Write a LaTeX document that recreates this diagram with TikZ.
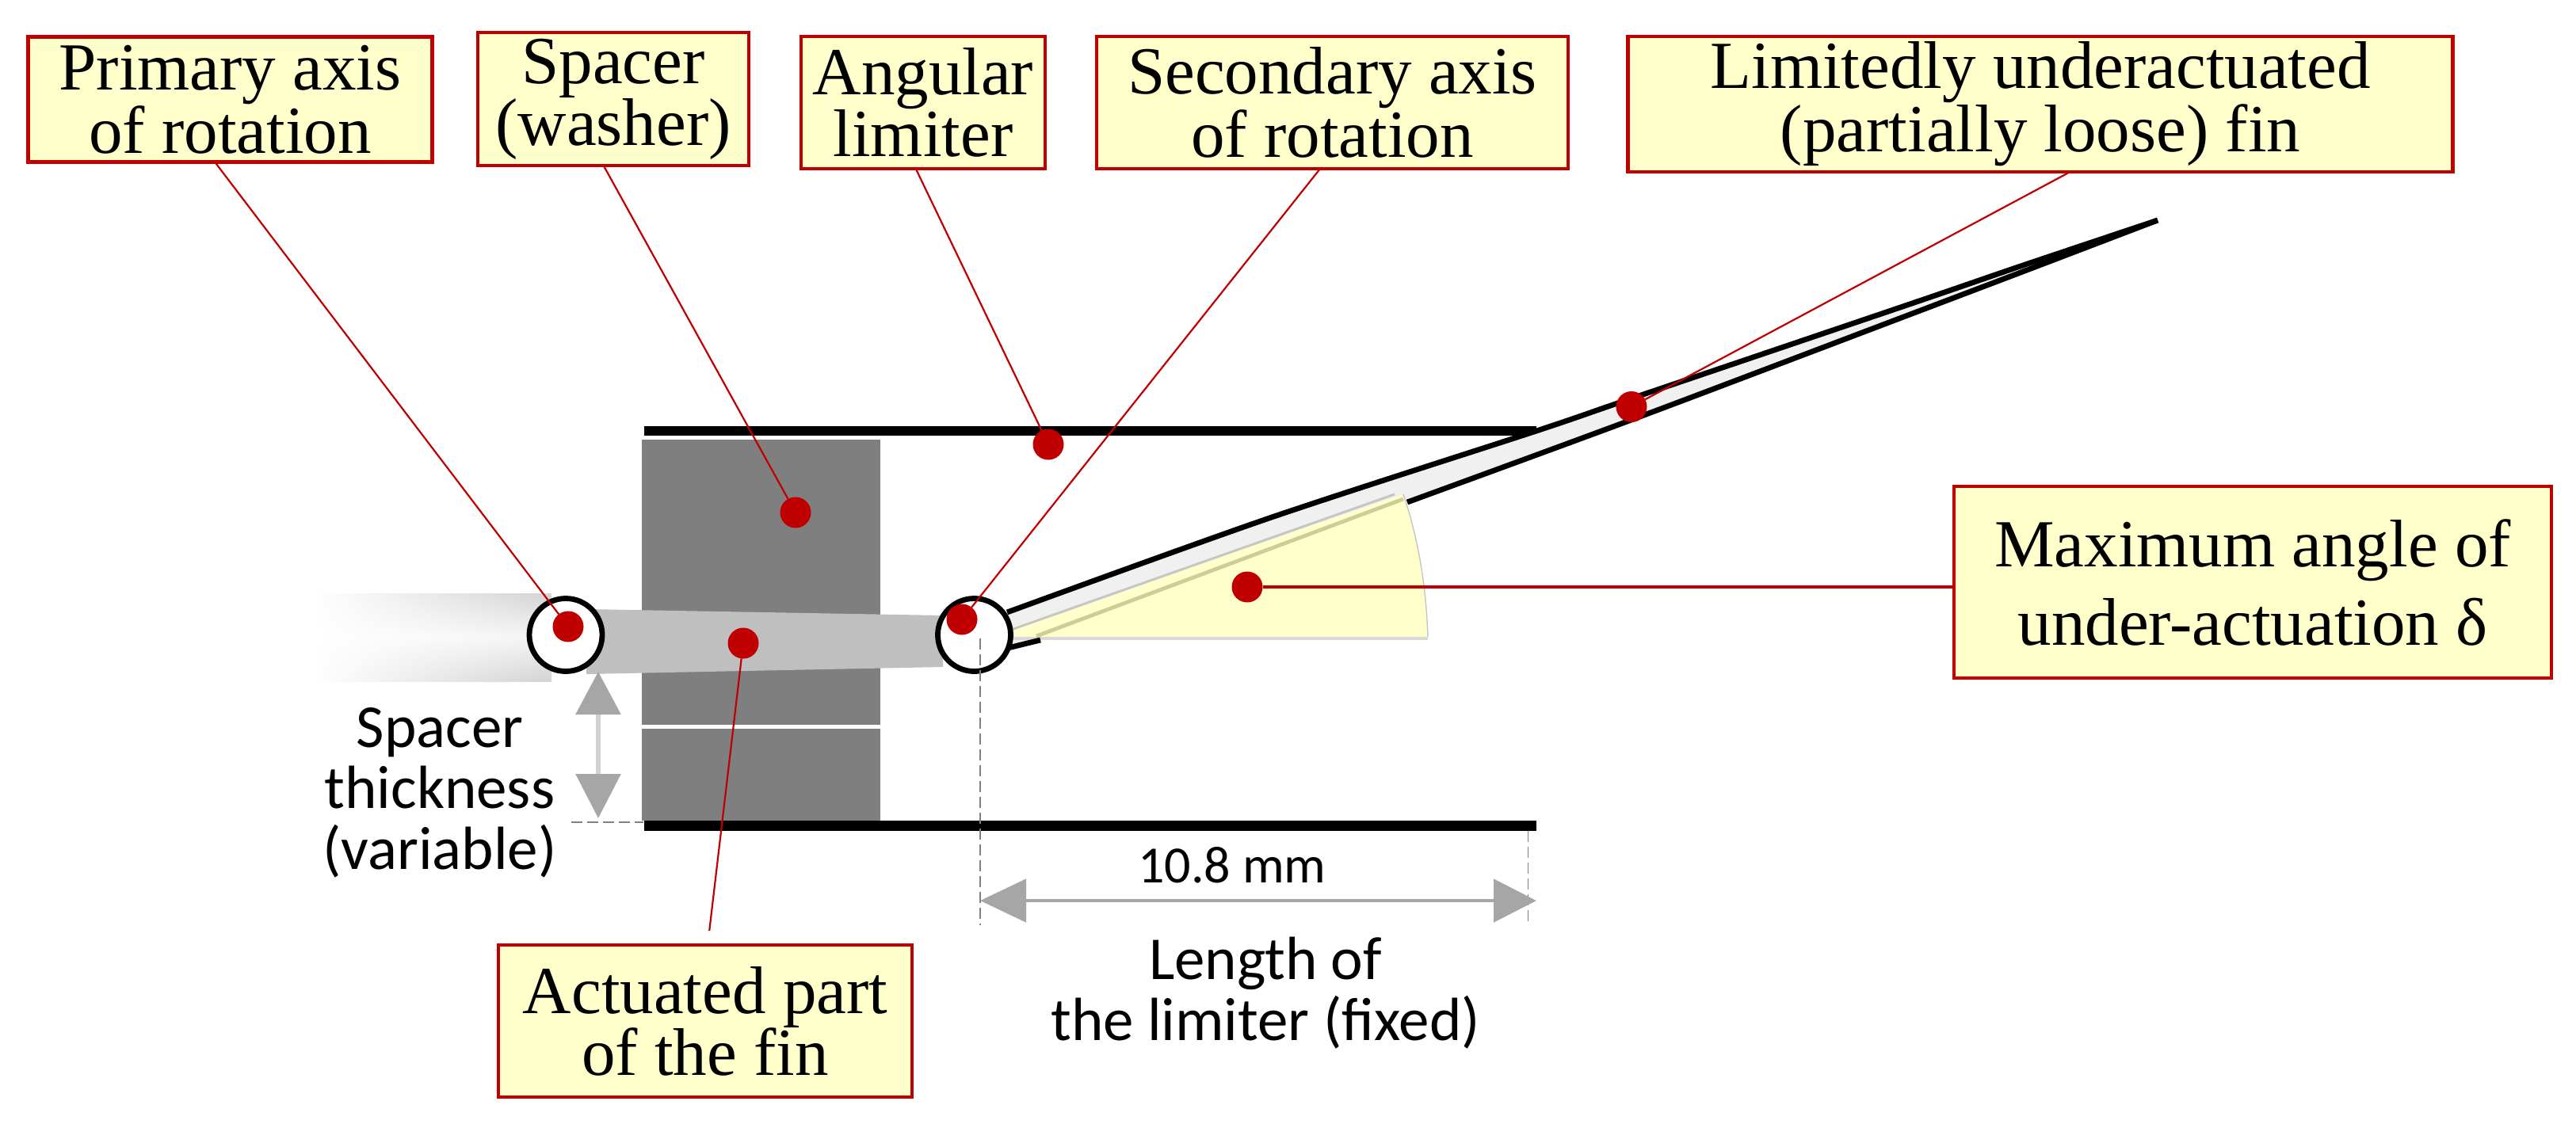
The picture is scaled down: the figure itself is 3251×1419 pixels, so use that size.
\documentclass[tikz,border=0pt]{standalone}
\usepackage{fontspec}
\setmainfont{Liberation Serif}
\newfontfamily\calib{Carlito}
\usetikzlibrary{arrows.meta,calc}
\definecolor{boxred}{HTML}{C00000}
\definecolor{boxyel}{HTML}{FFFFCC}
\definecolor{arrgray}{HTML}{A6A6A6}
\tikzset{
  labelbox/.style={draw=boxred,fill=boxyel,line width=2.1pt,inner sep=0pt,outer sep=0pt,align=center,
    font=\fontsize{42.5}{39}\selectfont},
  plainlabel/.style={inner sep=0pt,outer sep=0pt,align=center,font=\calib\fontsize{38.5}{38.5}\selectfont},
  dotmark/.style={circle,fill=boxred,minimum size=19.5pt,inner sep=0pt,outer sep=0pt},
  pivot/.style={circle,draw=black,fill=white,line width=3.4pt,minimum size=46pt,inner sep=0pt,outer sep=0pt},
  leader/.style={draw=boxred,line width=1.1pt},
  finline/.style={draw=black,line width=3.4pt},
  dimdash/.style={draw=gray,line width=0.8pt,dash pattern=on 7pt off 3pt},
}
\begin{document}
\begin{tikzpicture}[x=0.5pt,y=-0.5pt]
\useasboundingbox[fill=white] (0,0) rectangle (3251,1419);
% faded fin part at the left
\foreach \i in {0,...,37}{
  \pgfmathsetmacro\edgeval{34*\i/37}
  \pgfmathsetmacro\midval{8*\i/37}
  \pgfmathsetmacro\xa{391+8*\i}
  \pgfmathsetmacro\xb{\xa+9}
  \fill[top color=gray!\edgeval,bottom color=gray!\edgeval,middle color=gray!\midval] (\xa,749) rectangle (\xb,860);
}
% spacer
\fill[fill={rgb,255:red,127;green,127;blue,127}] (810,555) rectangle (1111,915);
\fill[fill={rgb,255:red,127;green,127;blue,127}] (810,920) rectangle (1111,1036);
% limiter bars
\fill[black] (813,538) rectangle (1939,550);
\fill[black] (813,1036) rectangle (1939,1049);
% actuated fin
\fill[fill={rgb,255:red,191;green,191;blue,191}] (740,769) -- (1190,777) -- (1190,842) -- (740,851) -- cycle;
% free fin
\fill[fill={rgb,255:red,240;green,240;blue,240}]
  plot[smooth] coordinates {(1271,773) (1602,654) (1939,544) (2059,503) (2413,383) (2550,336) (2723,278)}
  -- plot[smooth] coordinates {(2723,278) (2550,344) (2413,396) (2059,530) (1776,634) (1313,809) (1271,817)} -- cycle;
% wedge
\fill[boxyel] (1239,805) -- (1771,624) .. controls (1790,680) and (1800,740) .. (1802,805) -- cycle;
\draw[line width=0.7pt,draw=gray!45] (1771,624) .. controls (1790,680) and (1800,740) .. (1802,805);
\draw[line width=2.4pt,draw=gray!30] (1239,806) -- (1802,806);
\draw[line width=1.5pt,draw=gray!45] (1276,795) -- (1760,624);
\draw[line width=2.4pt,draw={rgb,255:red,205;green,205;blue,150}] (1308,803) -- (1771,630);
% fin edges
\draw[finline] plot[smooth] coordinates {(1271,773) (1602,654) (1939,544) (2059,503) (2413,383) (2550,336) (2723,278)};
\draw[finline] plot[smooth] coordinates {(1776,634) (2059,530) (2413,396) (2550,344) (2723,278)};
\draw[finline] (1268,819) -- (1313,808);
% pivots
\node[pivot] (cL) at (714,801.5) {};
\node[pivot] (cR) at (1229.5,801.5) {};
% dimension lines
\coordinate (vTop) at (755,848);
\coordinate (vBot) at (755,1033);
\coordinate (dLa) at (721,1038);
\coordinate (dLb) at (812,1038);
\coordinate (hL) at (1237,1137);
\coordinate (hR) at (1939,1137);
\draw[dimdash] (dLa) -- (dLb);
\draw[dimdash] (1237,806) -- (1237,1168);
\draw[dimdash] (1928.5,1049) -- (1928.5,1165);
\draw[draw=gray!35,line width=3pt,
  {Triangle[length=27pt,width=28pt,color=arrgray]}-{Triangle[length=28pt,width=28pt,color=arrgray]}] (vTop) -- (vBot);
\draw[draw=arrgray,line width=2.4pt,
  {Triangle[length=29pt,width=27pt,color=arrgray]}-{Triangle[length=27pt,width=27pt,color=arrgray]}] (hL) -- (hR);
% dots
\node[dotmark] (dP) at (717,791) {};
\node[dotmark] (dS) at (1004,647) {};
\node[dotmark] (dAc) at (938,812) {};
\node[dotmark] (dSe) at (1214,782) {};
\node[dotmark] (dAn) at (1323,561) {};
\node[dotmark] (dF) at (2059,513.5) {};
\node[dotmark] (dM) at (1574,741) {};
% label boxes
\node[labelbox,minimum width=255pt,minimum height=79pt] (bP) at (290.5,125.5) {Primary axis\\of rotation};
\node[labelbox,minimum width=171pt,minimum height=84pt] (bS) at (774,125) {Spacer\\(washer)};
\node[labelbox,minimum width=154pt,minimum height=83.5pt] (bAn) at (1165,129.5) {Angular\\limiter};
\node[labelbox,minimum width=297.5pt,minimum height=83.5pt] (bSe) at (1681.5,129.5) {Secondary axis\\of rotation};
\node[labelbox,minimum width=520.5pt,minimum height=85.5pt] (bF) at (2575,131.5) {Limitedly underactuated\\(partially loose) fin};
\node[labelbox,minimum width=377pt,minimum height=121pt,font=\fontsize{42.5}{49.5}\selectfont] (bM) at (2843,735) {Maximum angle of\\under-actuation δ};
\node[labelbox,minimum width=261pt,minimum height=96pt] (bAc) at (890,1289) {Actuated part\\of the fin};
% leaders
\draw[leader] ($(bP.south west)!0.462!(bP.south east)$) -- (dP);
\draw[leader] ($(bS.south west)!0.464!(bS.south east)$) -- (dS);
\draw[leader] ($(bAn.south west)!0.47!(bAn.south east)$) -- (dAn);
\draw[leader] ($(bSe.south west)!0.474!(bSe.south east)$) -- (dSe);
\draw[leader] ($(bF.south west)!0.536!(bF.south east)$) -- (dF);
\draw[leader,line width=1.6pt] (bM.west |- dM) -- (dM);
\draw[leader] ($(bAc.north west)!0.51!(bAc.north east)+(0,-18)$) -- (dAc);
% plain labels
\node[plainlabel] (tSp) at (555,1001) {Spacer\\thickness\\(variable)};
\node[plainlabel,font=\calib\fontsize{33}{38}\selectfont] (tLen) at (1555,1092) {10.8 mm};
\node[plainlabel] (tLim) at (1597,1254) {Length of\\the limiter (fixed)};
\end{tikzpicture}
\end{document}
